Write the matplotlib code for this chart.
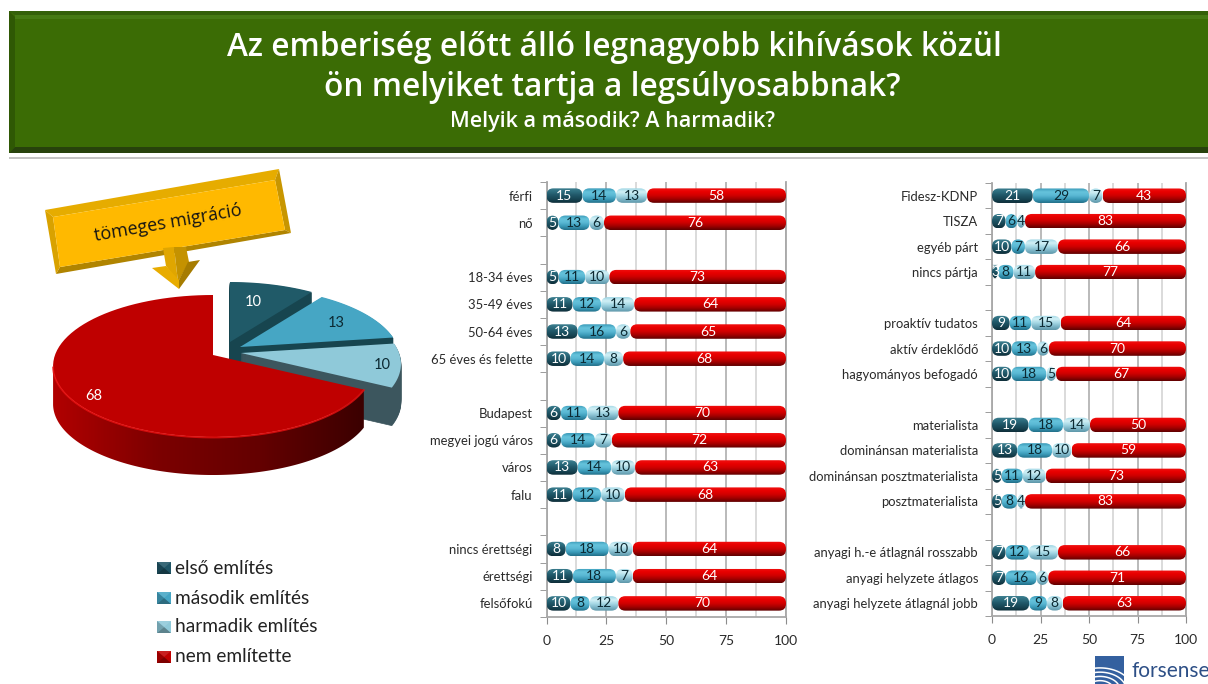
import numpy as np
import matplotlib
matplotlib.use("Agg")
import matplotlib.pyplot as plt
from matplotlib.colors import LinearSegmentedColormap, to_rgb
from matplotlib.patches import FancyBboxPatch, Polygon, Rectangle

plt.rcParams['font.family'] = ['Lato', 'DejaVu Sans']

W, H = 1208, 684

title_1 = "Az emberiség előtt álló legnagyobb kihívások közül"
title_2 = "ön melyiket tartja a legsúlyosabbnak?"
title_3 = "Melyik a második? A harmadik?"
callout = "tömeges migráció"

series_names = ["első említés", "második említés", "harmadik említés", "nem említette"]
pie_values = [10, 13, 10, 68]

# "" = ures sor a csoportok kozott
left_labels = ["férfi", "nő", "", "18-34 éves", "35-49 éves", "50-64 éves",
               "65 éves és felette", "", "Budapest", "megyei jogú város", "város",
               "falu", "", "nincs érettségi", "érettségi", "felsőfokú"]
left_first = [15, 5, 0, 5, 11, 13, 10, 0, 6, 6, 13, 11, 0, 8, 11, 10]
left_second = [14, 13, 0, 11, 12, 16, 14, 0, 11, 14, 14, 12, 0, 18, 18, 8]
left_third = [13, 6, 0, 10, 14, 6, 8, 0, 13, 7, 10, 10, 0, 10, 7, 12]
left_none = [58, 76, 0, 73, 64, 65, 68, 0, 70, 72, 63, 68, 0, 64, 64, 70]

right_labels = ["Fidesz-KDNP", "TISZA", "egyéb párt", "nincs pártja", "",
                "proaktív tudatos", "aktív érdeklődő", "hagyományos befogadó", "",
                "materialista", "dominánsan materialista",
                "dominánsan posztmaterialista", "posztmaterialista", "",
                "anyagi h.-e átlagnál rosszabb", "anyagi helyzete átlagos",
                "anyagi helyzete átlagnál jobb"]
right_first = [21, 7, 10, 3, 0, 9, 10, 10, 0, 19, 13, 5, 5, 0, 7, 7, 19]
right_second = [29, 6, 7, 8, 0, 11, 13, 18, 0, 18, 18, 11, 8, 0, 12, 16, 9]
right_third = [7, 4, 17, 11, 0, 15, 6, 5, 0, 14, 10, 12, 4, 0, 15, 6, 8]
right_none = [43, 83, 66, 77, 0, 64, 70, 67, 0, 50, 59, 73, 83, 0, 66, 71, 63]

x_ticks = [0, 25, 50, 75, 100]

bar_cmaps = [
    ["#3d7f90", "#2c6b7c", "#1f5566", "#174553", "#0f2f3a"],
    ["#3a9ab8", "#66c4dc", "#5ab8d4", "#3a9ab8", "#23708a"],
    ["#9fd6e4", "#d2f0f6", "#a8dae6", "#7fb8ca", "#5f98aa"],
    ["#f01010", "#e80000", "#d00000", "#a00000", "#600000"],
]
label_colors = ["white", "#0c2a33", "#0c2a33", "white"]
legend_colors = ["#1f5566", "#45a5c4", "#8fc9d9", "#c00000"]


def mix(c1, c2, t):
    a, b = np.array(to_rgb(c1)), np.array(to_rgb(c2))
    return tuple(a + (b - a) * t)


def draw_stacked(pos, labels, series):
    ax = fig.add_axes([pos[0] / W, 1 - pos[3] / H, (pos[2] - pos[0]) / W, (pos[3] - pos[1]) / H])
    ax.patch.set_alpha(0)
    n = len(labels)
    rows = np.arange(n)
    data = np.array(series, dtype=float)
    totals = data.sum(axis=0)
    totals[totals == 0] = 1
    shares = data / totals * 100
    px_x = (pos[2] - pos[0]) / 100
    px_y = (pos[3] - pos[1]) / n
    radius = 7 / px_x
    lefts = np.zeros(n)
    for k in range(4):
        bars = ax.barh(rows, shares[k], left=lefts, height=14.5 / px_y,
                       facecolor="none", edgecolor="none")
        cmap = LinearSegmentedColormap.from_list("b%d" % k, bar_cmaps[k])
        for rect in bars:
            if rect.get_width() == 0:
                continue
            x0, y0, w, h = rect.get_x(), rect.get_y(), rect.get_width(), rect.get_height()
            box = FancyBboxPatch((x0, y0), w, h, boxstyle="round,pad=0,rounding_size=%f" % radius,
                                 mutation_aspect=(1 / px_y) / (1 / px_x),
                                 facecolor="none", edgecolor="none", zorder=3 + k)
            ax.add_patch(box)
            img = ax.imshow(np.linspace(0, 1, 32).reshape(-1, 1), cmap=cmap, aspect="auto",
                            extent=(x0, x0 + w, y0 + h, y0), zorder=3 + k,
                            interpolation="bilinear")
            img.set_clip_path(box)
        texts = [str(int(v)) if v else "" for v in series[k]]
        ax.bar_label(bars, labels=texts, label_type="center", color=label_colors[k],
                     fontsize=10, zorder=10)
        lefts = lefts + shares[k]
    ax.set_xlim(0, 100)
    ax.set_ylim(n - 0.5, -0.5)
    ax.set_xticks(x_ticks)
    ax.set_xticks([12.5, 37.5, 62.5, 87.5], minor=True)
    ax.set_yticks(rows)
    ax.set_yticklabels(labels, fontsize=9.4, color="#2a2a2a")
    ax.tick_params(axis="y", which="major", length=0, pad=10)
    ax.set_yticks(np.arange(n + 1) - 0.5, minor=True)
    ax.tick_params(axis="y", which="minor", length=5, color="#8c8c8c", left=True)
    ax.tick_params(axis="x", which="major", length=5, color="#8c8c8c", labelsize=10,
                   labelcolor="#2a2a2a", pad=8)
    ax.tick_params(axis="x", which="minor", length=0)
    ax.grid(axis="x", which="major", color="#b4b4b4", lw=1.3, zorder=0)
    ax.grid(axis="x", which="minor", color="#d8d8d8", lw=1.3, zorder=0)
    ax.set_axisbelow(True)
    ax.spines["top"].set_visible(False)
    for side in ["left", "right", "bottom"]:
        ax.spines[side].set_color("#a8a8a8")
        ax.spines[side].set_linewidth(1.3)
    return ax


def project(theta, cx, cy, rx=158.0, ry=69.3, k=0.155):
    # kor a pite sikjaban, enyhe perspektivaval
    u = np.sin(theta)
    v = np.cos(theta)
    w = 1 + k * v
    return cx + rx * u / w, cy - ry * v / w


def wedge_top(a0, a1, cx, cy, dy=0):
    t = np.linspace(a0, a1, 80)
    x, y = project(t, cx, cy)
    return np.column_stack([np.r_[cx, x], np.r_[cy, y] + dy])


def extrude(ax, a0, a1, cx, cy, depth, color, z):
    # a fal: a lap egymas ala rajzolt masolatai
    for dy in range(1, depth + 1):
        ax.add_patch(Polygon(wedge_top(a0, a1, cx, cy, dy), fc=color, ec=color, lw=0.5, zorder=z))


def draw_pie(ax):
    depth = 38
    total = float(sum(pie_values))
    angles = np.r_[0, np.cumsum(pie_values)] / total * 2 * np.pi
    centers = [(230, 342), (240, 347), (241, 353), (213, 355)]
    top_colors = ["#205a68", "#46a6c4", "#8fc9d9", "#bf0000"]
    wall_colors = ["#17454f", "#17454f", "#3c565e"]

    for i in range(3):
        cx, cy = centers[i]
        extrude(ax, angles[i], angles[i + 1], cx, cy, depth, wall_colors[i], 2 + 2 * i)
        ax.add_patch(Polygon(wedge_top(angles[i], angles[i + 1], cx, cy), fc=top_colors[i],
                             ec="none", zorder=3 + 2 * i))

    # piros szelet, fala jobbra sotetedo
    cx, cy = centers[3]
    t = np.linspace(angles[3], angles[4], 300)
    x, y = project(t, cx, cy)
    end = np.argmin(x)
    wall = np.r_[np.column_stack([x[:end], y[:end]]),
                 np.column_stack([x[:end][::-1], y[:end][::-1] + depth])]
    clip = Polygon(wall, fc="none", ec="none", zorder=9)
    ax.add_patch(clip)
    wall_cmap = LinearSegmentedColormap.from_list("wall", ["#b00000", "#7c0000", "#640000", "#3c0000"])
    img = ax.imshow(np.linspace(0, 1, 64).reshape(1, -1), cmap=wall_cmap, aspect="auto",
                    extent=(x.min(), x.max(), y.max() + depth, y.min()), zorder=9,
                    interpolation="bilinear")
    img.set_clip_path(clip)
    ax.add_patch(Polygon(wedge_top(angles[3], angles[4], cx, cy), fc=top_colors[3], ec="none", zorder=10))
    ax.plot(x[:end], y[:end] + 0.5, color="#e81010", lw=1.3, zorder=11, alpha=0.8)

    # ertekek
    label_pos = [(253, 302), (336, 323), (382, 365), (94, 396)]
    label_col = ["white", "#0c2a33", "#0c2a33", "white"]
    for v, p, c in zip(pie_values, label_pos, label_col):
        ax.text(p[0], p[1], str(v), ha="center", va="center", color=c, fontsize=10.5, zorder=12)


def draw_banner(ax):
    x0, y0, x1, y1 = 9, 11, W, 153
    ax.add_patch(Rectangle((x0, y0), x1 - x0, y1 - y0, fc="#3b6c05", ec="none", zorder=1))
    ax.add_patch(Polygon([(x0, y0), (x1, y0), (x1, y0 + 4), (x0 + 6, y0 + 4)], fc="#34600a", ec="none", zorder=2))
    ax.add_patch(Polygon([(x0 + 6, y0 + 4), (x1, y0 + 4), (x1, y0 + 8), (x0 + 6, y0 + 8)], fc="#467a14", ec="none", zorder=2))
    ax.add_patch(Polygon([(x0, y0), (x0 + 6, y0 + 6), (x0 + 6, y1 - 6), (x0, y1)], fc="#2f5804", ec="none", zorder=2))
    ax.add_patch(Polygon([(x0, y1), (x0 + 6, y1 - 6), (x1, y1 - 6), (x1, y1)], fc="#27420c", ec="none", zorder=2))
    ax.add_patch(Rectangle((x0, 157), x1 - x0, 2, fc="#c4c4c4", ec="none", zorder=1))
    ax.text(614, 47, title_1, ha="center", va="center", color="white", fontsize=22.8, family="Open Sans", weight="semibold", zorder=3)
    ax.text(612, 88, title_2, ha="center", va="center", color="white", fontsize=22.8, family="Open Sans", weight="semibold", zorder=3)
    ax.text(612, 122, title_3, ha="center", va="center", color="white", fontsize=15.5, family="Open Sans", weight="semibold", zorder=3)


def draw_callout(ax):
    outer = [(45, 210), (279, 169), (291, 233), (56, 274)]
    inner = [(53, 217), (275, 180), (285, 230), (60, 267)]
    bevels = ["#e6ac00", "#c89600", "#b08400", "#d9a200"]
    for i, col in enumerate(bevels):
        j = (i + 1) % 4
        ax.add_patch(Polygon([outer[i], outer[j], inner[j], inner[i]], fc=col, ec="none", zorder=2))
    ax.add_patch(Polygon(inner, fc="#ffb900", ec="none", zorder=3))
    ax.add_patch(Polygon([(163, 248), (174, 247), (178, 282), (166, 266)], fc="#e0a600", ec="none", zorder=3))
    ax.add_patch(Polygon([(174, 247), (186, 247), (189, 262), (178, 282)], fc="#c49200", ec="none", zorder=3))
    ax.add_patch(Polygon([(152, 268), (166, 266), (179, 280), (179, 289)], fc="#e8ac00", ec="none", zorder=3))
    ax.add_patch(Polygon([(200, 260), (188, 262), (179, 280), (179, 289)], fc="#a67c00", ec="none", zorder=3))
    ax.text(168, 223, callout, ha="center", va="center", rotation=10, rotation_mode="anchor",
            fontsize=13, family="Open Sans", color="#141414", zorder=4)


def draw_legend(ax):
    ys = [568, 598, 627, 657]
    for name, y, col in zip(series_names, ys, legend_colors):
        x0, x1, y0, y1 = 157, 171, y - 6, y + 6
        mid = ((x0 + x1) / 2, y)
        ax.add_patch(Rectangle((x0, y0), x1 - x0, y1 - y0, fc=col, ec="none", zorder=2))
        ax.add_patch(Polygon([(x0, y0), (x1, y0), mid], fc=mix(col, "#ffffff", 0.12), ec="none", zorder=3))
        ax.add_patch(Polygon([(x0, y0), (x0, y1), mid], fc=mix(col, "#000000", 0.2), ec="none", zorder=3))
        ax.add_patch(Polygon([(x0, y1), (x1, y1), mid], fc=mix(col, "#000000", 0.35), ec="none", zorder=3))
        ax.text(175, y, name, ha="left", va="center", fontsize=13.8, color="#222222", zorder=3)


def draw_logo(ax):
    square = Rectangle((1095, 656), 29, 28, fc="#34609f", ec="none", zorder=2)
    ax.add_patch(square)
    for r in [6, 11, 16, 21, 26]:
        t = np.linspace(0, 2 * np.pi, 90)
        line, = ax.plot(1100 + r * np.cos(t) * 1.25, 690 + r * np.sin(t) * 0.85,
                        color="white", lw=1.1, zorder=3)
        line.set_clip_path(square)
    ax.text(1131, 671, "forsense", ha="left", va="center", fontsize=15, color="#2d4f86", zorder=3)


fig = plt.figure(figsize=(W / 100, H / 100), dpi=100, facecolor="white")
canvas = fig.add_axes([0, 0, 1, 1])
canvas.set_xlim(0, W)
canvas.set_ylim(H, 0)
canvas.axis("off")

draw_banner(canvas)
draw_callout(canvas)
draw_pie(canvas)
draw_legend(canvas)
draw_logo(canvas)

draw_stacked((546.5, 182, 786, 617), left_labels, [left_first, left_second, left_third, left_none])
draw_stacked((992, 183, 1186, 616), right_labels, [right_first, right_second, right_third, right_none])

fig.savefig("out.png", dpi=100)
